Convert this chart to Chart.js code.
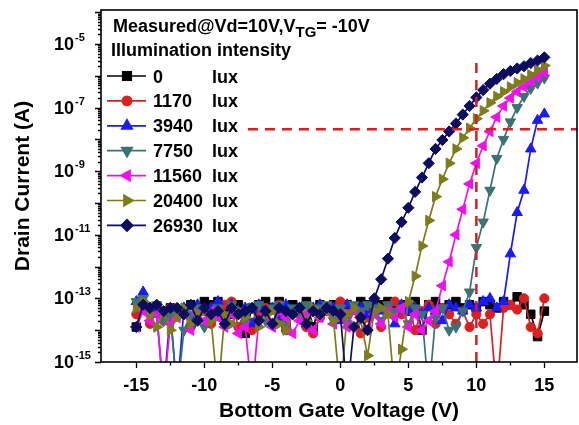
<!DOCTYPE html>
<html>
<head>
<meta charset="utf-8">
<title>Drain current vs bottom gate voltage</title>
<script src="https://cdn.jsdelivr.net/npm/chart.js"></script>
<style>
  html, body { margin: 0; padding: 0; background: #fff; }
  canvas { display: block; }
</style>
</head>
<body>
<canvas id="transferChart" width="579" height="425"></canvas>
<script>
// bottom gate sweep (V)
const gateVoltage = [
  -15, -14.5, -14, -13.5, -13, -12.5, -12, -11.5, -11, -10.5,
  -10, -9.5, -9, -8.5, -8, -7.5, -7, -6.5, -6, -5.5,
  -5, -4.5, -4, -3.5, -3, -2.5, -2, -1.5, -1, -0.5,
  0, 0.5, 1, 1.5, 2, 2.5, 3, 3.5, 4, 4.5,
  5, 5.5, 6, 6.5, 7, 7.5, 8, 8.5, 9, 9.5,
  10, 10.5, 11, 11.5, 12, 12.5, 13, 13.5, 14, 14.5,
  15
];

// log10 of drain current (A), one array per illumination level
const logId0 = [
  -13.9, -13.2, -13.4, -13.3, -13.6, -13.3, -13.4, -13.5, -13.2, -13.3,
  -13.1, -13.2, -13.1, -13.3, -13.5, -13.2, -14.1, -13.3, -13.2, -13.1,
  -13.3, -13.1, -13.8, -13.2, -13.3, -13.1, -13.9, -13.2, -13.3, -13.2,
  -13.4, -13.2, -13.3, -13.1, -13.2, -13.3, -13.2, -13.1, -13.3, -13.2,
  -13.4, -13.1, -14.0, -13.2, -13.1, -13.3, -13.2, -13.1, -13.3, -13.2,
  -13.3, -13.1, -13.2, -13.3, -13.1, -13.2, -12.95, -13.2, -13.5, -14.2,
  -13.4
];
const logId1170 = [
  -13.5, -13.3, -13.8, -13.4, -13.7, -13.3, -13.5, -13.4, -13.9, -13.3,
  -13.4, -13.8, -13.3, -13.2, -13.1, -13.9, -13.4, -14.0, -13.5, -13.3,
  -13.8, -13.2, -14.0, -13.4, -13.5, -13.9, -14.1, -13.6, -13.4, -13.3,
  -13.1, -13.5, -13.3, -14.1, -13.6, -13.4, -13.9, -13.3, -13.1, -13.5,
  -13.2, -14.0, -13.4, -13.2, -13.8, -13.3, -13.5, -13.8, -13.4, -13.9,
  -13.5, -13.8, -13.5, -16.0, -13.3, -13.2, -13.35, -13.0, -13.9, -14.1,
  -13.0
];
const logId3940 = [
  -13.1, -12.8, -13.3, -13.5, -16.0, -13.4, -16.0, -13.3, -13.8, -13.2,
  -13.4, -13.3, -13.1, -13.7, -13.2, -13.4, -13.3, -13.8, -13.2, -13.4,
  -13.3, -13.7, -13.2, -13.4, -13.3, -13.8, -13.3, -13.2, -13.4, -13.3,
  -13.7, -13.2, -13.4, -13.3, -13.5, -13.2, -13.4, -13.3, -13.8, -13.2,
  -13.4, -13.3, -13.5, -13.3, -13.4, -13.7, -13.2, -13.3, -13.4, -13.2,
  -13.3, -13.1, -13.0, -13.3, -13.1, -11.6, -10.3, -9.6, -8.3, -7.4,
  -7.2
];
const logId7750 = [
  -13.1, -13.0, -13.4, -13.2, -13.7, -13.5, -16.0, -14.0, -13.5, -13.3,
  -13.9, -13.4, -13.3, -13.7, -13.2, -13.4, -13.8, -13.3, -13.2, -13.7,
  -13.3, -13.2, -13.8, -13.3, -13.5, -13.2, -13.4, -13.3, -13.2, -13.7,
  -13.3, -13.8, -13.2, -13.4, -13.2, -13.3, -13.7, -13.2, -13.4, -13.3,
  -13.8, -13.3, -13.5, -16.0, -13.6, -13.3, -14.0, -13.9, -13.4, -12.8,
  -11.4, -10.6, -9.6, -8.6, -8.0, -7.45, -7.0, -6.65, -6.4, -6.23,
  -6.07
];
const logId11560 = [
  -13.9, -13.4, -13.7, -13.5, -16.0, -13.8, -13.6, -13.4, -14.0, -13.5,
  -13.7, -13.4, -13.6, -13.9, -13.5, -14.1, -13.9, -16.0, -13.7, -13.5,
  -13.9, -13.4, -13.6, -14.1, -13.7, -13.5, -14.0, -13.6, -13.4, -13.8,
  -13.5, -13.9, -13.4, -13.6, -14.0, -13.5, -13.8, -13.4, -13.6, -13.3,
  -13.9, -13.5, -14.0, -13.7, -13.4, -12.6, -11.85, -11.0, -10.2, -9.4,
  -8.75, -8.2, -7.75, -7.3, -6.95, -6.7, -6.5, -6.35, -6.2, -6.05,
  -5.9
];
const logId20400 = [
  -13.3, -13.1, -13.5, -13.9, -13.4, -14.0, -13.6, -13.3, -13.8, -13.5,
  -13.4, -13.7, -16.0, -13.5, -13.8, -13.4, -13.6, -13.3, -13.9, -13.5,
  -13.4, -13.8, -14.0, -13.5, -13.4, -13.7, -13.3, -13.5, -13.4, -13.7,
  -16.0, -13.5, -13.3, -13.7, -14.8, -13.4, -13.3, -13.5, -16.0, -14.6,
  -13.1, -12.3, -11.35, -10.55, -9.8, -9.25, -8.75, -8.3, -7.95, -7.65,
  -7.35, -7.1, -6.85, -6.65, -6.5, -6.35, -6.22, -6.1, -5.97, -5.82,
  -5.68
];
const logId26930 = [
  -13.9, -13.2, -13.3, -13.2, -13.4, -13.3, -13.3, -13.5, -13.2, -13.7,
  -13.3, -13.5, -13.4, -13.8, -13.3, -13.5, -13.4, -13.3, -13.7, -13.4,
  -13.8, -13.3, -13.4, -13.5, -13.3, -13.8, -13.4, -13.5, -13.3, -13.4,
  -13.5, -16.0, -13.9, -13.6, -14.0, -13.0, -12.4, -11.75, -11.1, -10.6,
  -10.15, -9.65, -9.2, -8.75, -8.3, -8.02, -7.75, -7.5, -7.22, -6.95,
  -6.68, -6.45, -6.25, -6.1, -5.95, -5.85, -5.77, -5.7, -5.6, -5.52,
  -5.42
];

const luxLevels = ['0', '1170', '3940', '7750', '11560', '20400', '26930'];
const seriesLogs = [logId0, logId1170, logId3940, logId7750, logId11560, logId20400, logId26930];

// dashed guide lines: read-out current and gate voltage
const refCurrent = 2.1e-8;
const refLineStartV = -6.8;
const refVoltage = 10;
const refVoltageTopCurrent = 2.5e-6;

// axis settings
const xMin = -17.6, xMax = 17.4;
const yMin = 1e-15, yMax = 1.17e-4;
const xLabelValues = [-15, -10, -5, 0, 5, 10, 15];
const yLabelExponents = [-15, -13, -11, -9, -7, -5];

// styles
const seriesColors = ['#000000', '#dc2020', '#1a1aff', '#3b7272', '#ee10ee', '#7c7c1a', '#0c0c60'];
const markerStyles = ['rect', 'circle', 'triangle', 'triangle', 'triangle', 'triangle', 'rectRot'];
const markerRotation = [0, 0, 0, 180, -90, 90, 0];
const markerRadius = [6, 4.6, 6, 6, 6, 6, 5.6];
const FONT = '"Liberation Sans", Arial, Helvetica, sans-serif';

Chart.defaults.font.family = FONT;
Chart.defaults.color = '#000';

const datasets = seriesLogs.map((logs, k) => ({
  label: luxLevels[k] + ' lux',
  data: gateVoltage.map((v, i) => ({ x: v, y: Math.pow(10, logs[i]) })),
  borderColor: seriesColors[k],
  backgroundColor: seriesColors[k],
  borderWidth: 1.7,
  pointStyle: markerStyles[k],
  pointRotation: markerRotation[k],
  pointRadius: markerRadius[k],
  pointBorderWidth: 1,
  tension: 0,
  order: 10 - k
}));

const dashStyle = { borderColor: '#d42020', borderWidth: 2.5, borderDash: [10, 7], pointRadius: 0, order: -1 };
datasets.push(Object.assign({
  label: 'ref current',
  data: [{ x: refLineStartV, y: refCurrent }, { x: xMax, y: refCurrent }]
}, dashStyle));
datasets.push(Object.assign({
  label: 'ref voltage',
  data: [{ x: refVoltage, y: yMin }, { x: refVoltage, y: refVoltageTopCurrent }]
}, dashStyle));

// box, outward tick marks and 10^n labels
const axesDecor = {
  id: 'axesDecor',
  afterDraw(chart) {
    const { ctx, chartArea: a, scales: { x, y } } = chart;
    ctx.save();
    ctx.strokeStyle = '#000';
    ctx.lineWidth = 1.6;
    ctx.strokeRect(a.left, a.top, a.right - a.left, a.bottom - a.top);

    ctx.lineWidth = 1.3;
    ctx.beginPath();
    for (let v = -15; v <= 15; v += 2.5) {
      const px = Math.round(x.getPixelForValue(v)) + 0.5;
      const len = v % 5 === 0 ? 6 : 3.5;
      ctx.moveTo(px, a.bottom);
      ctx.lineTo(px, a.bottom + len);
    }
    for (let e = -15; e <= -4; e++) {
      for (let m = 1; m <= 9; m++) {
        const val = m * Math.pow(10, e);
        if (val > yMax) break;
        const py = Math.round(y.getPixelForValue(val)) + 0.5;
        const len = m === 1 ? 6 : 3;
        ctx.moveTo(a.left, py);
        ctx.lineTo(a.left - len, py);
      }
    }
    ctx.stroke();

    ctx.fillStyle = '#000';
    ctx.textBaseline = 'middle';
    ctx.textAlign = 'left';
    yLabelExponents.forEach(e => {
      const py = y.getPixelForValue(Math.pow(10, e));
      ctx.font = 'bold 18px ' + FONT;
      ctx.fillText('10', 54, py + 1);
      const w = ctx.measureText('10').width;
      ctx.font = 'bold 11px ' + FONT;
      ctx.fillText(String(e), 54 + w + 1, py - 6);
    });
    ctx.restore();
  }
};

// legend block in the upper left of the plot
const legendBlock = {
  id: 'legendBlock',
  afterDraw(chart) {
    const ctx = chart.ctx;
    ctx.save();
    ctx.fillStyle = '#000';
    ctx.textAlign = 'left';
    ctx.textBaseline = 'alphabetic';
    const big = 'bold 18px ' + FONT;
    ctx.font = big;
    let tx = 113;
    const head = 'Measured@Vd=10V,V';
    ctx.fillText(head, tx, 32);
    tx += ctx.measureText(head).width;
    ctx.font = 'bold 15px ' + FONT;
    ctx.fillText('TG', tx, 37);
    tx += ctx.measureText('TG').width;
    ctx.font = big;
    ctx.fillText('= -10V', tx, 32);
    ctx.fillText('Illumination intensity', 111, 56);

    luxLevels.forEach((lux, k) => {
      const ds = chart.data.datasets[k];
      const cy = 76 + k * 24.9;
      ctx.strokeStyle = ds.borderColor;
      ctx.lineWidth = 1.7;
      ctx.beginPath();
      ctx.moveTo(107, cy);
      ctx.lineTo(146, cy);
      ctx.stroke();
      ctx.fillStyle = ds.backgroundColor;
      Chart.helpers.drawPoint(ctx, {
        pointStyle: ds.pointStyle, rotation: ds.pointRotation,
        radius: ds.pointRadius, borderWidth: 1
      }, 127, cy);
      ctx.fillStyle = '#000';
      ctx.font = big;
      ctx.fillText(lux, 153, cy + 6.5);
      ctx.fillText('lux', 212, cy + 6.5);
    });
    ctx.restore();
  }
};

new Chart(document.getElementById('transferChart'), {
  type: 'line',
  data: { datasets },
  options: {
    responsive: false,
    animation: false,
    events: [],
    layout: { autoPadding: false, padding: { top: 10, right: 2, left: 0, bottom: 0 } },
    plugins: { legend: { display: false }, tooltip: { enabled: false } },
    scales: {
      x: {
        type: 'linear',
        min: xMin,
        max: xMax,
        grid: { display: false },
        border: { display: false },
        afterBuildTicks: s => { s.ticks = xLabelValues.map(v => ({ value: v })); },
        afterFit: s => { s.height = 63; },
        ticks: { font: { size: 18, weight: 'bold' }, padding: 5, maxRotation: 0, color: '#000' },
        title: {
          display: true,
          text: 'Bottom Gate Voltage (V)',
          font: { size: 21, weight: 'bold' },
          color: '#000',
          padding: { top: 0, bottom: 1 }
        }
      },
      y: {
        type: 'logarithmic',
        min: yMin,
        max: yMax,
        grid: { display: false },
        border: { display: false },
        ticks: { display: false },
        afterFit: s => { s.width = 101; },
        title: {
          display: true,
          text: 'Drain Current (A)',
          font: { size: 21, weight: 'bold' },
          color: '#000',
          padding: { top: 11, bottom: 0 }
        }
      }
    }
  },
  plugins: [axesDecor, legendBlock]
});
</script>
</body>
</html>
